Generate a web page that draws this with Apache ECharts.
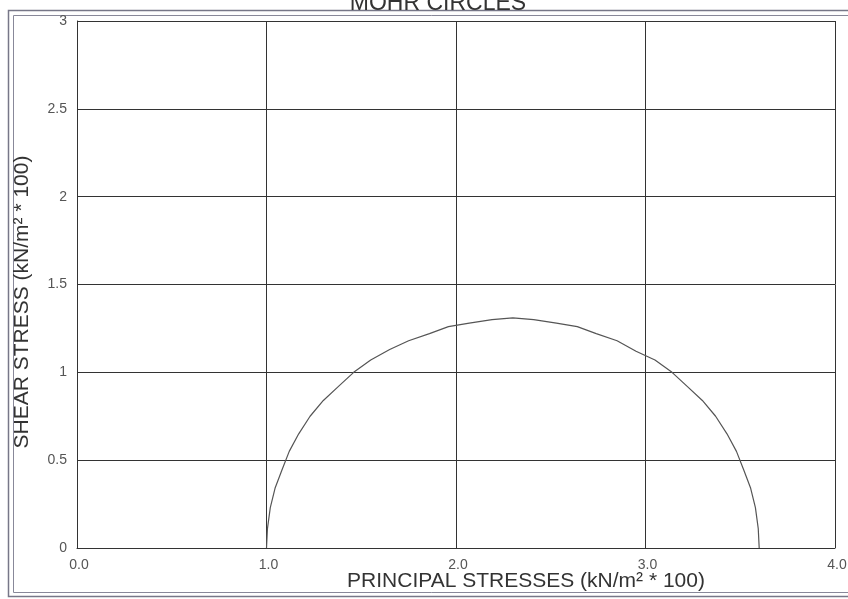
<!DOCTYPE html>
<html><head><meta charset="utf-8">
<script src="https://cdn.jsdelivr.net/npm/echarts@6/dist/echarts.min.js"></script>
<style>html,body{margin:0;padding:0;background:#fff}#c{width:848px;height:599px}</style>
</head><body><div id="c"></div>
<script>
// Mohr circle points: [principal stress, shear stress]
const sigma = [1.00,1.005,1.02,1.045,1.08,1.12,1.17,1.23,1.30,1.38,1.46,1.55,1.65,1.75,1.86,1.96,2.07,2.19,2.30,2.41,2.53,2.64,2.74,2.85,2.95,3.05,3.14,3.22,3.30,3.37,3.43,3.48,3.52,3.555,3.58,3.595,3.60];
const tau   = [0.00,0.11,0.23,0.34,0.44,0.55,0.65,0.75,0.84,0.92,1.00,1.07,1.13,1.18,1.22,1.26,1.28,1.30,1.31,1.30,1.28,1.26,1.22,1.18,1.12,1.07,1.00,0.92,0.84,0.75,0.65,0.55,0.44,0.34,0.23,0.11,0.00];
const xTicks = [0,1,2,3,4];
const yTicks = [0,0.5,1,1.5,2,2.5,3];
const titleText = 'MOHR CIRCLES';
const xName = 'PRINCIPAL STRESSES (kN/m\u00B2 * 100)';
const yName = 'SHEAR STRESS (kN/m\u00B2 * 100)';

const pts = sigma.map((s,i)=>[s,tau[i]]);
const chart = echarts.init(document.getElementById('c'), null, {renderer:'canvas'});
const font = "'Liberation Sans',Arial,sans-serif";
chart.setOption({
  animation:false,
  backgroundColor:'#fff',
  title:{text:titleText,left:433,top:-13,textAlign:'center',textStyle:{fontFamily:font,fontSize:23,fontWeight:'normal',color:'#333'}},
  grid:{left:77,right:13,top:21,bottom:51,show:false,outerBoundsMode:'none',containLabel:false},
  xAxis:{type:'value',min:xTicks[0],max:xTicks[xTicks.length-1],interval:1,
    axisLine:{show:true,lineStyle:{color:'#333',width:1}},axisTick:{show:false},
    axisLabel:{margin:10,fontFamily:font,fontSize:14,color:'#555',padding:[0,0,0,4],formatter:v=>v.toFixed(1)},
    splitLine:{show:true,lineStyle:{color:'#333',width:1}}},
  yAxis:{type:'value',min:yTicks[0],max:yTicks[yTicks.length-1],interval:0.5,
    axisLine:{show:true,lineStyle:{color:'#333',width:1}},axisTick:{show:false},
    axisLabel:{margin:10,fontFamily:font,fontSize:14,color:'#555'},
    splitLine:{show:true,lineStyle:{color:'#333',width:1}}},
  series:[{type:'line',data:pts,showSymbol:false,symbol:'none',smooth:false,
    lineStyle:{color:'#555',width:1.2}}],
  graphic:[
    {type:'rect',shape:{x:8.5,y:10.5,width:850,height:586},style:{fill:null,stroke:'#778',lineWidth:1.5},silent:true},
    {type:'rect',shape:{x:13.5,y:15.5,width:850,height:577},style:{fill:null,stroke:'#889',lineWidth:1},silent:true},
    {type:'text',x:526,y:581,style:{text:xName,fontFamily:font,fontSize:21,fill:'#333',textAlign:'center',textVerticalAlign:'middle'}},
    {type:'text',x:22,y:302,rotation:Math.PI/2,style:{text:yName,fontFamily:font,fontSize:21,fill:'#333',textAlign:'center',textVerticalAlign:'middle'}}
  ]
});
</script></body></html>
